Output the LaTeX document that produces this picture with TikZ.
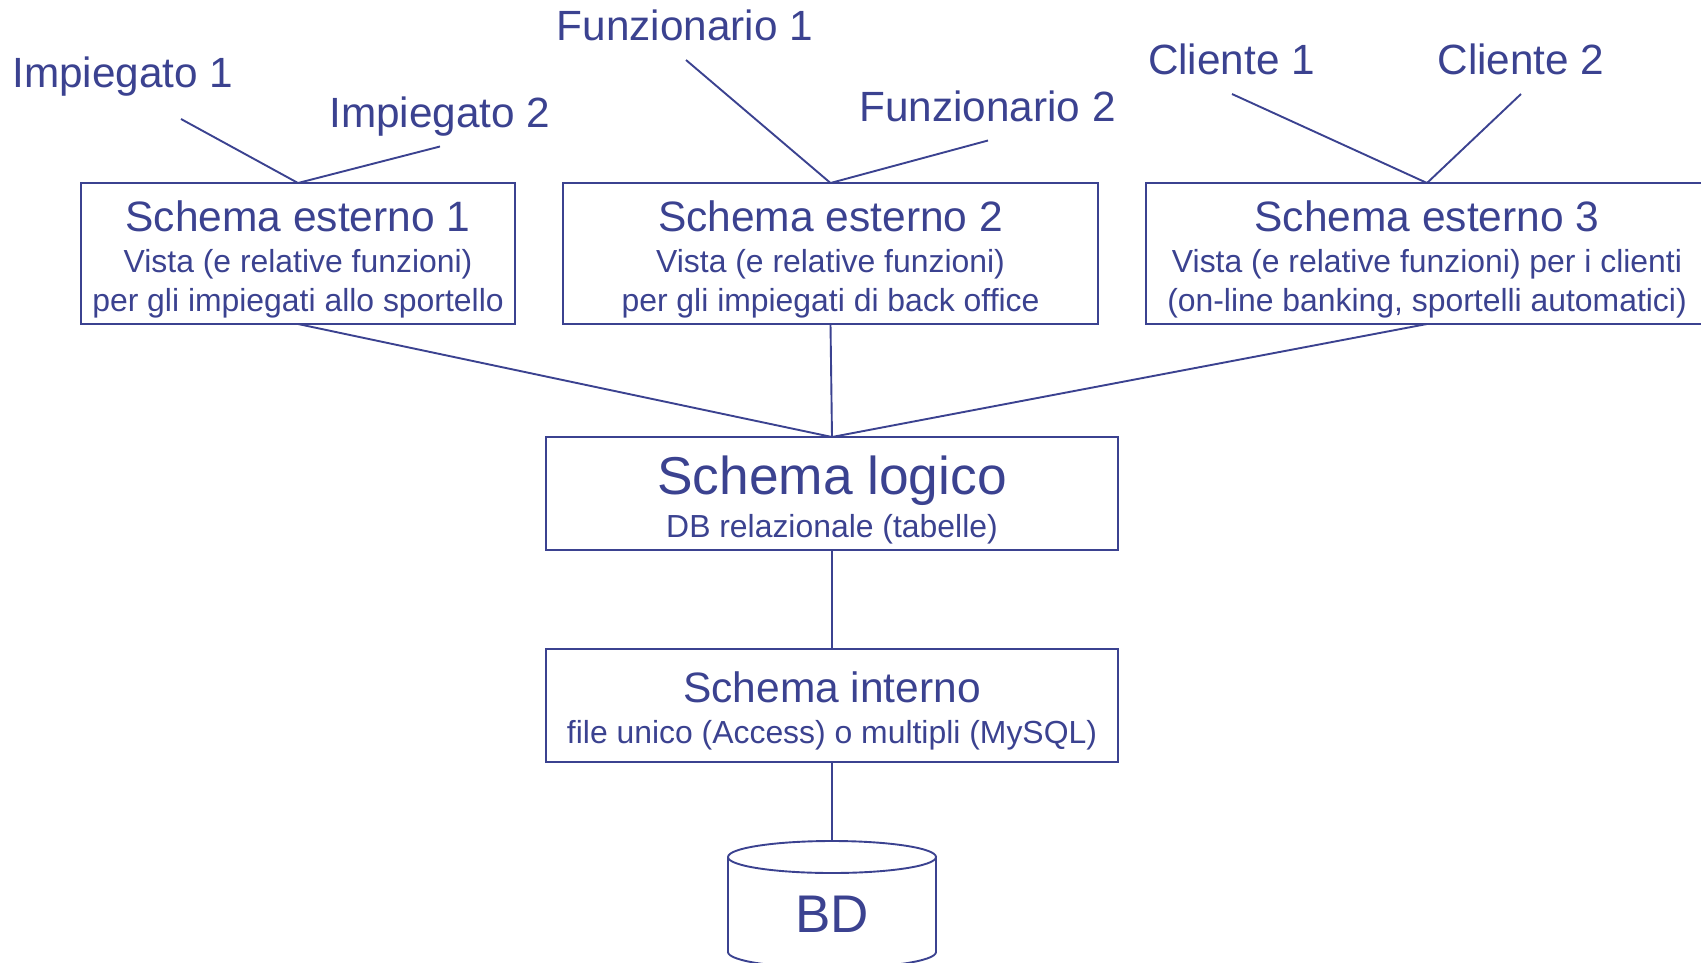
\documentclass[tikz,border=0pt]{standalone}
\usepackage{fontspec}
\setmainfont{Liberation Sans}
\definecolor{ink}{HTML}{3B4290}
\tikzset{
  every node/.style={text=ink, inner sep=0pt, outer sep=0pt},
  conn/.style={draw=ink, line width=1.9pt},
  box/.style={draw=ink, line width=1.9pt, fill=none},
  who/.style={anchor=base, font=\fontsize{42.3}{48}\selectfont},
  boxtext/.style={anchor=north, align=center, font=\fontsize{31.9}{39}\selectfont},
}
\newcommand{\ttl}[1]{{\fontsize{42.5}{39}\selectfont #1}}
\begin{document}
\begin{tikzpicture}[x=1pt,y=-1pt]
\clip (0,0) rectangle (1701,962);
% boxes
\node[box, minimum width=434pt, minimum height=141pt] (e1) at (298,253.5) {};
\node[box, minimum width=535pt, minimum height=141pt] (e2) at (830.5,253.5) {};
\node[box, minimum width=562pt, minimum height=141pt] (e3) at (1427,253.5) {};
\node[box, minimum width=572pt, minimum height=113pt] (lo) at (832,493.5) {};
\node[box, minimum width=572pt, minimum height=113pt] (in) at (832,705.5) {};
% box texts
\node[boxtext, yshift=-18pt] (t1) at (e1.north) {\ttl{Schema esterno 1}\\[1.5pt]Vista (e relative funzioni)\\per gli impiegati allo sportello};
\node[boxtext, yshift=-18pt] (t2) at (e2.north) {\ttl{Schema esterno 2}\\[1.5pt]Vista (e relative funzioni)\\per gli impiegati di back office};
\node[boxtext, yshift=-18pt] (t3) at (e3.north) {\ttl{Schema esterno 3}\\[1.5pt]Vista (e relative funzioni) per i clienti\\(on-line banking, sportelli automatici)};
\node[boxtext, yshift=-19pt, font=\fontsize{31.9}{43}\selectfont] (t4) at (lo.north) {{\fontsize{53.3}{43}\selectfont Schema logico}\\DB relazionale (tabelle)};
\node[boxtext, yshift=-22.5pt, font=\fontsize{31.9}{41.5}\selectfont] (t5) at (in.north) {\ttl{Schema interno}\\file unico (Access) o multipli (MySQL)};
% user labels
\node[who] (i1) at (123,87) {Impiegato 1};
\node[who] (i2) at (440,127) {Impiegato 2};
\node[who] (f1) at (685,40) {Funzionario 1};
\node[who] (f2) at (987.5,121) {Funzionario 2};
\node[who] (c1) at (1231.5,74) {Cliente 1};
\node[who] (c2) at (1521,74) {Cliente 2};
\coordinate (ci1) at (181,119);
\coordinate (ci2) at (440,146.5);
\coordinate (cf1) at (686,60);
\coordinate (cf2) at (988,140.5);
\coordinate (cc1) at (1232,94);
\coordinate (cc2) at (1521,94);
\draw[conn] (ci1) -- (e1.north);
\draw[conn] (ci2) -- (e1.north);
\draw[conn] (cf1) -- (e2.north);
\draw[conn] (cf2) -- (e2.north);
\draw[conn] (cc1) -- (e3.north);
\draw[conn] (cc2) -- (e3.north);
\draw[conn] (e1.south) -- (lo.north);
\draw[conn] (e2.south) -- (lo.north);
\draw[conn] (e3.south) -- (lo.north);
\draw[conn] (lo.south) -- (in.north);
% database
\coordinate (dbtop) at (832,841);
\draw[conn] (in.south) -- (dbtop);
\draw[conn] (728,857) arc[start angle=180, end angle=540, x radius=104pt, y radius=16pt];
\draw[conn] (728,857) -- (728,952) arc[start angle=180, end angle=360, x radius=104pt, y radius=16pt] -- (936,857);
\node[anchor=base, font=\fontsize{53}{60}\selectfont] (bd) at (832,932) {BD};
\end{tikzpicture}
\end{document}
